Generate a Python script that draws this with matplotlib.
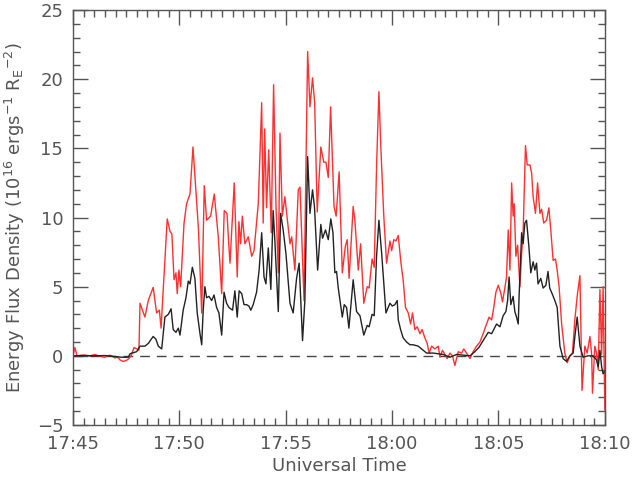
import numpy as np
import matplotlib
matplotlib.use('Agg')
import matplotlib.pyplot as plt
from matplotlib.ticker import MultipleLocator

# minutes after 17:45 UT, energy flux density (1e16 ergs/s/Re^2)
red_t = [0.0, 0.09, 0.19, 0.4, 0.56, 0.8, 1.03, 1.27, 1.5, 1.74, 1.97, 2.11, 2.21, 2.35, 2.49, 2.63, 2.73,
         2.87, 3.01, 3.10, 3.15, 3.38, 3.54, 3.77, 3.93, 4.06, 4.14, 4.43, 4.56, 4.65, 4.75, 4.84, 4.90,
         4.98, 5.06, 5.22, 5.34, 5.50, 5.64, 5.90, 6.05, 6.17, 6.28, 6.47, 6.64, 6.83, 6.99, 7.11, 7.24,
         7.31, 7.38, 7.58, 7.72, 7.80, 7.88, 7.96, 8.08, 8.24, 8.40, 8.51, 8.71, 8.87, 8.94, 9.01, 9.10,
         9.20, 9.32, 9.43, 9.54, 9.65, 9.73, 9.84, 9.96, 10.20, 10.28, 10.43, 10.59, 10.67, 10.86, 11.03,
         11.14, 11.26, 11.36, 11.48, 11.65, 11.79, 11.89, 12.00, 12.11, 12.27, 12.37, 12.51, 12.66, 12.80,
         12.89, 12.98, 13.17, 13.25, 13.41, 13.52, 13.67, 13.83, 13.92, 14.06, 14.16, 14.27, 14.38, 14.47,
         14.61, 14.74, 14.90, 14.98, 15.08, 15.18, 15.29, 15.41, 15.52, 15.63, 15.76, 15.87, 15.96, 16.07,
         16.18, 16.31, 16.41, 16.54, 16.65, 16.74, 16.86, 17.01, 17.17, 17.25, 17.37, 17.48, 17.59, 17.72,
         17.84, 17.95, 18.11, 18.27, 18.37, 18.50, 18.66, 18.81, 18.97, 19.13, 19.28, 19.44, 19.56, 19.68,
         19.78, 19.88, 19.99, 20.10, 20.19, 20.30, 20.38, 20.46, 20.54, 20.62, 20.69, 20.74, 20.82, 20.90,
         21.01, 21.09, 21.16, 21.27, 21.35, 21.48, 21.56, 21.63, 21.74, 21.84, 21.95, 22.03, 22.13, 22.26,
         22.37, 22.46, 22.57, 22.68, 22.76, 22.85, 22.97, 23.12, 23.23, 23.36, 23.48, 23.59, 23.70, 23.83,
         23.93, 24.06, 24.17, 24.30, 24.38, 24.42, 24.53, 24.61, 24.69, 24.77, 24.85, 24.92, 25.00]
red_v = [0.0, 0.6, 0.0, 0.05, 0.05, 0.0, 0.1, -0.05, -0.1, 0.05, -0.15, -0.1, -0.3, -0.4, -0.35, -0.2, 0.0,
         0.6, 0.5, 0.4, 3.8, 2.8, 4.0, 4.95, 3.1, 3.3, 2.0, 9.9, 9.0, 8.8, 5.5, 6.0, 4.5,
         6.2, 5.0, 9.6, 11.0, 11.7, 15.1, 9.1, 3.1, 12.3, 9.8, 10.1, 11.7, 8.6, 4.5, 10.5, 10.3,
         8.4, 6.7, 12.5, 5.7, 9.7, 8.1, 10.1, 8.1, 8.6, 7.2, 7.6, 11.0, 18.3, 9.6, 16.4, 10.7,
         14.9, 8.9, 19.6, 11.0, 6.0, 16.1, 10.1, 11.5, 8.1, 8.6, 6.2, 12.0, 12.2, 4.0, 22.0,
         18.0, 20.1, 18.3, 10.4, 15.1, 14.0, 14.0, 12.9, 18.0, 10.8, 10.1, 13.3, 6.0, 7.9,
         8.4, 5.6, 10.8, 9.8, 6.2, 8.1, 3.8, 5.0, 4.9, 7.0, 6.4, 13.7, 19.1, 15.1,
         10.1, 6.7, 8.3, 7.6, 8.4, 8.3, 8.7, 6.8, 5.5, 3.5, 3.1, 2.3, 3.1, 1.9,
         2.1, 1.6, 1.9, 1.3, 0.9, 0.2, 0.7, 0.5, 0.7, -0.1, 0.4, 0.1, -0.2, 0.2,
         0.0, -0.7, 0.3, 0.2, 0.5, 0.2, -0.2, 0.3, 0.7, 1.0, 1.6, 2.3, 2.8, 2.6,
         3.5, 4.6, 5.1, 4.6, 3.9, 4.9, 5.7, 9.1, 6.2, 12.5, 10.1, 11.0, 7.2, 8.0,
         5.0, 7.4, 8.9, 15.2, 13.8, 13.8, 13.2, 11.5, 10.3, 12.5, 10.3, 10.6, 9.6, 9.8,
         10.7, 9.1, 6.9, 7.0, 6.2, 5.0, 2.3, 0.2, -0.5, 0.0, 0.2, 2.6, 4.3, 5.8,
         -2.5, 0.7, 0.2, 1.4, 0.1, -2.7, 0.7, 0.2, -1.0, 4.8, 0.1, 5.0, -3.9]

black_t = [0.0, 0.5, 1.0, 1.5, 2.0, 2.3, 2.6, 2.68, 2.99, 3.15, 3.38, 3.54, 3.77, 3.90, 4.01, 4.17, 4.32,
           4.48, 4.61, 4.71, 4.84, 4.95, 5.03, 5.18, 5.31, 5.42, 5.50, 5.61, 5.73, 5.84, 5.97, 6.05, 6.12,
           6.20, 6.28, 6.39, 6.52, 6.63, 6.75, 6.86, 6.99, 7.10, 7.22, 7.33, 7.41, 7.50, 7.61, 7.72, 7.81,
           7.93, 8.04, 8.16, 8.27, 8.36, 8.47, 8.63, 8.75, 8.87, 8.98, 9.07, 9.18, 9.30, 9.41, 9.49, 9.65,
           9.76, 9.88, 10.01, 10.20, 10.35, 10.51, 10.63, 10.75, 10.79, 10.90, 11.03, 11.14, 11.26, 11.35,
           11.50, 11.65, 11.73, 11.87, 12.00, 12.12, 12.22, 12.31, 12.39, 12.47, 12.66, 12.75, 12.86, 12.97,
           13.17, 13.33, 13.49, 13.67, 13.83, 13.92, 14.06, 14.16, 14.27, 14.38, 14.51, 14.71, 14.90, 15.01,
           15.13, 15.24, 15.29, 15.40, 15.52, 15.68, 15.84, 15.99, 16.23, 16.46, 16.62, 16.93, 17.40, 17.72,
           18.03, 18.66, 18.89, 19.08, 19.28, 19.52, 19.68, 19.91, 20.07, 20.22, 20.35, 20.43, 20.50, 20.58,
           20.69, 20.77, 20.85, 20.93, 20.97, 21.09, 21.16, 21.24, 21.32, 21.43, 21.52, 21.63, 21.71, 21.79,
           21.86, 21.99, 22.10, 22.23, 22.33, 22.41, 22.52, 22.65, 22.76, 22.89, 23.04, 23.20, 23.36, 23.51,
           23.60, 23.70, 23.83, 23.98, 24.21, 24.45, 24.61, 24.69, 24.77, 24.85, 24.92, 25.00]
black_v = [0.0, 0.02, 0.0, 0.02, -0.05, -0.1, -0.1, 0.15, 0.3, 0.7, 0.7, 0.9, 1.4, 1.2, 0.7, 0.5, 2.8,
           3.0, 3.4, 1.9, 1.7, 2.0, 1.5, 3.3, 4.2, 5.4, 5.2, 6.4, 5.6, 3.1, 1.6, 0.8, 3.3,
           5.0, 4.2, 4.3, 4.0, 4.4, 3.5, 3.1, 1.5, 4.6, 3.8, 3.5, 3.4, 3.3, 4.7, 2.8, 4.7,
           4.5, 3.7, 3.7, 3.6, 3.3, 3.7, 4.6, 6.2, 8.9, 5.7, 5.2, 7.8, 4.8, 10.5, 8.3, 3.2,
           10.3, 9.1, 7.4, 3.8, 3.1, 5.6, 6.7, 2.6, 1.1, 4.0, 14.4, 10.3, 12.0, 10.8,
           6.2, 9.5, 8.5, 9.1, 8.4, 9.9, 8.9, 6.0, 6.1, 4.9, 2.8, 3.7, 3.5, 2.0,
           5.5, 3.2, 2.9, 1.5, 2.2, 2.1, 3.0, 2.9, 7.2, 9.8, 7.4, 3.1, 3.8, 3.6,
           3.7, 4.0, 2.6, 1.9, 1.3, 1.0, 0.8, 0.8, 0.7, 0.4, 0.2, 0.2, 0.1, -0.1,
           0.1, 0.0, 0.3, 0.6, 1.1, 1.7, 1.6, 2.3, 2.1, 2.9, 3.2, 4.0, 5.7, 3.7,
           4.3, 3.2, 2.8, 2.3, 4.3, 8.9, 8.1, 9.6, 9.8, 7.9, 6.0, 6.8, 6.2, 6.7,
           5.2, 5.6, 4.9, 5.1, 6.1, 4.9, 4.5, 4.0, 3.5, 0.7, -0.2, -0.4, 0.0, 0.2,
           1.5, 2.8, 0.7, -0.1, 0.0, 0.0, -0.3, -0.8, 0.4, -0.8, -1.3, -1.1]

xtick_pos = [0, 5, 10, 15, 20, 25]
xtick_labels = ['17:45', '17:50', '17:55', '18:00', '18:05', '18:10']

gray = '#555555'
fig = plt.figure(figsize=(6.32, 4.8), dpi=100)
ax = fig.add_axes([0.1155, 0.1146, 0.8415, 0.8645])

ax.axhline(0, color='#444444', lw=1.0, dashes=(7, 5))
ax.plot(red_t, red_v, color='#ff3030', lw=1.0)
ax.plot(black_t, black_v, color='#222222', lw=1.0)

ax.set_xlim(0, 25)
ax.set_ylim(-5, 25)
ax.set_xticks(xtick_pos)
ax.set_xticklabels(xtick_labels)
ax.set_yticks([-5, 0, 5, 10, 15, 20, 25])
ax.set_yticklabels(['\u22125', '0', '5', '10', '15', '20', '25'])
ax.xaxis.set_minor_locator(MultipleLocator(0.5))
ax.yaxis.set_minor_locator(MultipleLocator(1))
ax.tick_params(which='both', direction='in', top=True, right=True, color=gray, width=1,
               labelcolor=gray, labelsize=13)
ax.tick_params(which='major', length=11, pad=7)
ax.tick_params(which='minor', length=5)
for s in ax.spines.values():
    s.set_color(gray)
    s.set_linewidth(1)

ax.set_xlabel('Universal Time', color=gray, fontsize=13, labelpad=3)
ax.set_ylabel(r'Energy Flux Density (10$^{16}$ ergs$^{-1}$ R$_{\mathrm{E}}$$^{-2}$)',
              color=gray, fontsize=13, labelpad=7)

fig.savefig('out.png', dpi=100)
